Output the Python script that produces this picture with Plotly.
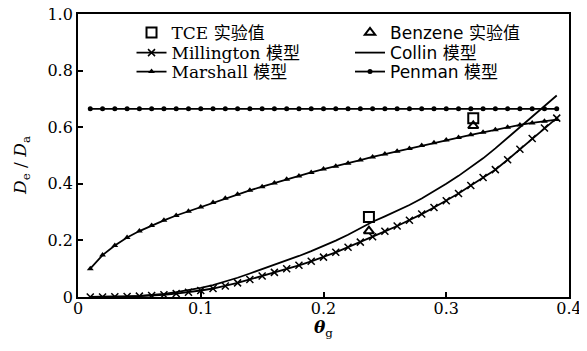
import plotly.graph_objects as go

theta = [0.01, 0.02, 0.03, 0.04, 0.05, 0.06, 0.07, 0.08, 0.09, 0.10,
         0.11, 0.12, 0.13, 0.14, 0.15, 0.16, 0.17, 0.18, 0.19, 0.20,
         0.21, 0.22, 0.23, 0.24, 0.25, 0.26, 0.27, 0.28, 0.29, 0.30,
         0.31, 0.32, 0.33, 0.34, 0.35, 0.36, 0.37, 0.38, 0.39]

millington = [0.000, 0.000, 0.001, 0.002, 0.003, 0.005, 0.008, 0.012, 0.017, 0.023,
              0.030, 0.039, 0.050, 0.062, 0.074, 0.087, 0.100, 0.112, 0.126, 0.141,
              0.158, 0.176, 0.194, 0.213, 0.232, 0.251, 0.271, 0.293, 0.316, 0.340,
              0.366, 0.394, 0.422, 0.450, 0.485, 0.522, 0.560, 0.597, 0.632]

collin = [0.000, 0.000, 0.001, 0.002, 0.004, 0.007, 0.011, 0.017, 0.024, 0.032,
          0.042, 0.054, 0.068, 0.083, 0.098, 0.113, 0.129, 0.145, 0.162, 0.180,
          0.199, 0.220, 0.243, 0.266, 0.285, 0.304, 0.325, 0.348, 0.373, 0.400,
          0.428, 0.458, 0.490, 0.525, 0.563, 0.600, 0.638, 0.675, 0.712]

marshall = [0.100, 0.148, 0.182, 0.210, 0.233, 0.253, 0.271, 0.288, 0.303, 0.318,
            0.334, 0.349, 0.363, 0.377, 0.390, 0.403, 0.416, 0.428, 0.440, 0.452,
            0.462, 0.473, 0.484, 0.495, 0.505, 0.515, 0.525, 0.535, 0.545, 0.555,
            0.564, 0.573, 0.582, 0.591, 0.600, 0.608, 0.615, 0.621, 0.627]

penman = [0.665, 0.665, 0.665, 0.665, 0.665, 0.665, 0.665, 0.665, 0.665, 0.665,
          0.665, 0.665, 0.665, 0.665, 0.665, 0.665, 0.665, 0.665, 0.665, 0.665,
          0.665, 0.665, 0.665, 0.665, 0.665, 0.665, 0.665, 0.665, 0.665, 0.665,
          0.665, 0.665, 0.665, 0.665, 0.665, 0.665, 0.665, 0.665, 0.665]

exp_theta = [0.237, 0.322]
tce = [0.283, 0.632]
benzene = [0.233, 0.605]

x_ticks = [0, 0.1, 0.2, 0.3, 0.4]
x_ticktext = ["0", "0.1", "0.2", "0.3", "0.4"]
y_ticks = [0, 0.2, 0.4, 0.6, 0.8, 1.0]
y_ticktext = ["0", "0.2", "0.4", "0.6", "0.8", "1.0"]

SERIF = "DejaVu Serif, Noto Sans CJK SC, serif"
SANS = "DejaVu Sans, Noto Sans CJK SC, sans-serif"

fig = go.Figure()

fig.add_trace(go.Scatter(x=exp_theta, y=tce, mode="markers", name="TCE 实验值",
                         marker=dict(symbol="square-open", size=10, color="black",
                                     line=dict(width=2)),
                         legend="legend"))
fig.add_trace(go.Scatter(x=theta, y=millington, mode="lines+markers", name="Millington 模型",
                         line=dict(color="black", width=1.8),
                         marker=dict(symbol="x-thin", size=7, color="black",
                                     line=dict(width=1.5, color="black")),
                         legend="legend2"))
fig.add_trace(go.Scatter(x=theta, y=marshall, mode="lines+markers", name="Marshall 模型",
                         line=dict(color="black", width=1.8),
                         marker=dict(symbol="triangle-up", size=6, color="black"),
                         legend="legend3"))
fig.add_trace(go.Scatter(x=exp_theta, y=benzene, mode="markers", name="Benzene 实验值",
                         marker=dict(symbol="triangle-up-open", size=9, color="black",
                                     line=dict(width=2)),
                         legend="legend4"))
fig.add_trace(go.Scatter(x=theta, y=collin, mode="lines", name="Collin 模型",
                         line=dict(color="black", width=1.8),
                         legend="legend5"))
fig.add_trace(go.Scatter(x=theta, y=penman, mode="lines+markers", name="Penman 模型",
                         line=dict(color="black", width=1.8),
                         marker=dict(symbol="circle", size=5, color="black"),
                         legend="legend6"))


def leg(x, y, family):
    return dict(x=x, y=y, xanchor="left", yanchor="middle",
                bgcolor="rgba(0,0,0,0)", borderwidth=0,
                font=dict(family=family, size=17, color="black"),
                tracegroupgap=0, itemwidth=30)


fig.update_layout(
    width=579, height=343,
    margin=dict(l=70, r=18, t=6, b=54, autoexpand=False),
    paper_bgcolor="white", plot_bgcolor="white",
    font=dict(family=SERIF, color="black", size=16),
    showlegend=True,
    legend=leg(0.109, 0.933, SERIF),
    legend2=leg(0.109, 0.862, SERIF),
    legend3=leg(0.109, 0.795, SERIF),
    legend4=leg(0.554, 0.933, SANS),
    legend5=leg(0.554, 0.862, SANS),
    legend6=leg(0.554, 0.795, SANS),
)

fig.update_xaxes(range=[0, 0.4], tickvals=x_ticks, ticktext=x_ticktext,
                 ticks="inside", ticklen=5, tickwidth=1.5, tickcolor="black",
                 showline=True, linecolor="black", linewidth=1.8, mirror=True,
                 showgrid=False, zeroline=False, ticklabeloverflow="allow",
                 ticklabelstandoff=-4,
                 tickfont=dict(family=SERIF, size=16))
fig.update_yaxes(range=[0, 1.0], tickvals=y_ticks, ticktext=y_ticktext,
                 ticks="inside", ticklen=5, tickwidth=1.5, tickcolor="black",
                 showline=True, linecolor="black", linewidth=1.8, mirror=True,
                 showgrid=False, zeroline=False, ticklabeloverflow="allow",
                 tickfont=dict(family=SERIF, size=16))

fig.add_annotation(text="<b><i>θ</i></b><sub>g</sub>", xref="x", yref="paper",
                   x=0.2, y=-0.11, xanchor="center", yanchor="middle",
                   showarrow=False, font=dict(family=SERIF, size=17, color="black"))
fig.add_annotation(text="<i>D</i><sub>e</sub> / <i>D</i><sub>a</sub>", xref="paper", yref="paper",
                   x=-0.114, y=0.463, xanchor="center", yanchor="middle", textangle=-90,
                   showarrow=False, font=dict(family=SERIF, size=17, color="black"))

fig.write_html("out.html")
